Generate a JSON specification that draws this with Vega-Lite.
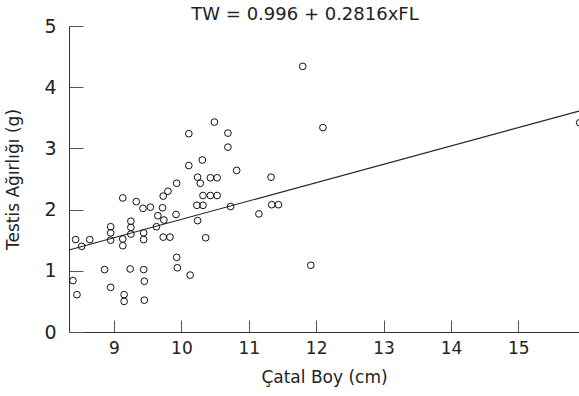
{
  "$schema": "https://vega.github.io/schema/vega-lite/v6.json",
  "width": 510,
  "height": 306,
  "autosize": {"type": "none"},
  "padding": {"left": 69, "top": 26, "right": 0, "bottom": 64},
  "config": {"view": {"stroke": null}, "font": "DejaVu Sans"},
  "title": {"text": "TW = 0.996 + 0.2816xFL", "fontSize": 18, "fontWeight": "normal", "color": "#222", "anchor": "middle", "frame": "group", "dx": -19, "dy": 21, "offset": 0, "baseline": "alphabetic"},
  "datasets": {
    "pts": [
      {"fl": 8.39, "tw": 0.84}, {"fl": 8.45, "tw": 0.61}, {"fl": 8.43, "tw": 1.51}, {"fl": 8.52, "tw": 1.40},
      {"fl": 8.64, "tw": 1.51}, {"fl": 8.86, "tw": 1.02}, {"fl": 8.95, "tw": 0.73}, {"fl": 8.95, "tw": 1.72},
      {"fl": 8.95, "tw": 1.62}, {"fl": 8.95, "tw": 1.50}, {"fl": 9.13, "tw": 2.19}, {"fl": 9.13, "tw": 1.52},
      {"fl": 9.13, "tw": 1.41}, {"fl": 9.15, "tw": 0.61}, {"fl": 9.15, "tw": 0.50}, {"fl": 9.24, "tw": 1.03},
      {"fl": 9.25, "tw": 1.81}, {"fl": 9.25, "tw": 1.71}, {"fl": 9.25, "tw": 1.60}, {"fl": 9.33, "tw": 2.13},
      {"fl": 9.43, "tw": 2.02}, {"fl": 9.44, "tw": 1.02}, {"fl": 9.45, "tw": 0.83}, {"fl": 9.45, "tw": 0.52},
      {"fl": 9.44, "tw": 1.62}, {"fl": 9.44, "tw": 1.51}, {"fl": 9.54, "tw": 2.04}, {"fl": 9.63, "tw": 1.72},
      {"fl": 9.65, "tw": 1.90}, {"fl": 9.72, "tw": 2.03}, {"fl": 9.73, "tw": 2.22}, {"fl": 9.74, "tw": 1.83},
      {"fl": 9.73, "tw": 1.55}, {"fl": 9.83, "tw": 1.55}, {"fl": 9.80, "tw": 2.30}, {"fl": 9.92, "tw": 1.92},
      {"fl": 9.93, "tw": 2.43}, {"fl": 9.93, "tw": 1.22}, {"fl": 9.94, "tw": 1.05}, {"fl": 10.11, "tw": 3.24},
      {"fl": 10.11, "tw": 2.72}, {"fl": 10.13, "tw": 0.93}, {"fl": 10.23, "tw": 2.07}, {"fl": 10.24, "tw": 2.53},
      {"fl": 10.24, "tw": 1.82}, {"fl": 10.28, "tw": 2.43}, {"fl": 10.31, "tw": 2.81}, {"fl": 10.32, "tw": 2.23},
      {"fl": 10.32, "tw": 2.07}, {"fl": 10.36, "tw": 1.54}, {"fl": 10.43, "tw": 2.52}, {"fl": 10.43, "tw": 2.23},
      {"fl": 10.49, "tw": 3.43}, {"fl": 10.53, "tw": 2.52}, {"fl": 10.53, "tw": 2.23}, {"fl": 10.69, "tw": 3.25},
      {"fl": 10.69, "tw": 3.02}, {"fl": 10.73, "tw": 2.05}, {"fl": 10.82, "tw": 2.64}, {"fl": 11.15, "tw": 1.93},
      {"fl": 11.33, "tw": 2.53}, {"fl": 11.34, "tw": 2.08}, {"fl": 11.44, "tw": 2.08}, {"fl": 11.80, "tw": 4.34},
      {"fl": 11.92, "tw": 1.09}, {"fl": 12.10, "tw": 3.34}, {"fl": 15.91, "tw": 3.42}
    ],
    "fit": [{"fl": 8.332, "tw": 1.34}, {"fl": 15.9, "tw": 3.61}]
  },
  "layer": [
    {
      "data": {"name": "fit"},
      "mark": {"type": "line", "color": "#222", "strokeWidth": 1.1},
      "encoding": {
        "x": {"field": "fl", "type": "quantitative", "scale": {"domain": [8.332, 15.9], "nice": false, "zero": false},
          "axis": {"values": [9, 10, 11, 12, 13, 14, 15], "format": "d", "tickSize": -12, "labelPadding": 20, "grid": false, "domainColor": "#333", "tickColor": "#555", "labelFontSize": 17, "labelColor": "#222", "labelFlush": false,
            "title": "Çatal Boy (cm)", "titleFontSize": 17, "titleFontWeight": "normal", "titleColor": "#222", "titlePadding": 13}},
        "y": {"field": "tw", "type": "quantitative", "scale": {"domain": [0, 5], "nice": false},
          "axis": {"values": [0, 1, 2, 3, 4, 5], "format": "d", "tickSize": -14, "labelPadding": 27, "grid": false, "domainColor": "#333", "tickColor": "#555", "labelFontSize": 19, "labelColor": "#222", "labelFlush": false,
            "title": "Testis Ağırlığı (g)", "titleFontSize": 17, "titleFontWeight": "normal", "titleColor": "#222", "titlePadding": 21}}
      }
    },
    {
      "data": {"name": "pts"},
      "mark": {"type": "point", "shape": "circle", "filled": false, "color": "#111", "size": 45, "strokeWidth": 1, "opacity": 1, "clip": true},
      "encoding": {
        "x": {"field": "fl", "type": "quantitative"},
        "y": {"field": "tw", "type": "quantitative"}
      }
    }
  ]
}
